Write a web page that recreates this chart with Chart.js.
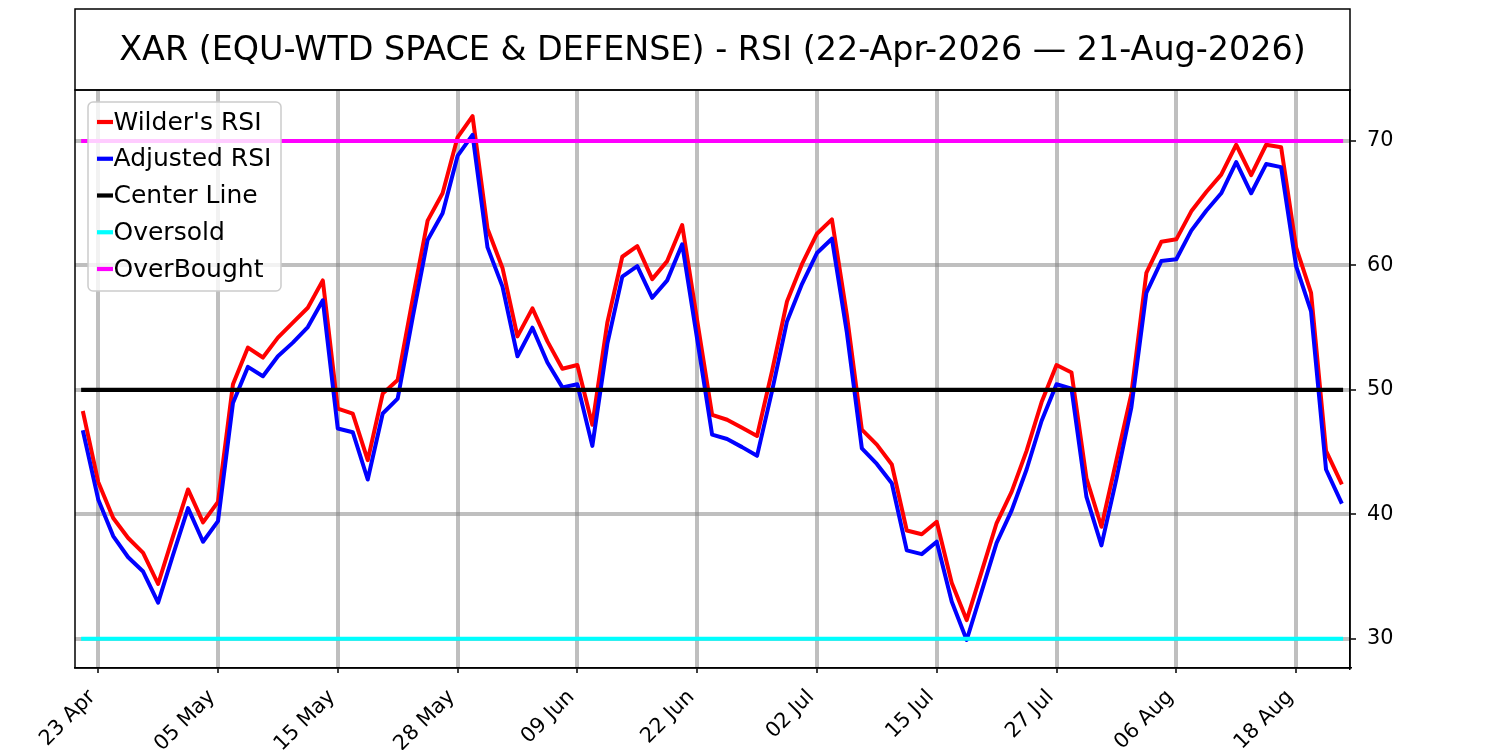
<!DOCTYPE html>
<html>
<head>
<meta charset="utf-8">
<script src="https://cdn.jsdelivr.net/npm/chart.js@4.4.1/dist/chart.umd.min.js"></script>
<style>
html,body{margin:0;padding:0;background:#ffffff;}
#wrap{width:1500px;height:750px;}
</style>
</head>
<body>
<div id="wrap"><canvas id="c" width="1500" height="750"></canvas></div>
<script>
const titleText = "XAR (EQU-WTD SPACE & DEFENSE) - RSI (22-Apr-2026 \u2014 21-Aug-2026)";

const dates = [
  "22 Apr","23 Apr","24 Apr","27 Apr","28 Apr","29 Apr","30 Apr","01 May","04 May","05 May",
  "06 May","07 May","08 May","11 May","12 May","13 May","14 May","15 May","18 May","19 May",
  "20 May","21 May","22 May","26 May","27 May","28 May","29 May","01 Jun","02 Jun","03 Jun",
  "04 Jun","05 Jun","08 Jun","09 Jun","10 Jun","11 Jun","12 Jun","15 Jun","16 Jun","17 Jun",
  "18 Jun","22 Jun","23 Jun","24 Jun","25 Jun","26 Jun","29 Jun","30 Jun","01 Jul","02 Jul",
  "06 Jul","07 Jul","08 Jul","09 Jul","10 Jul","13 Jul","14 Jul","15 Jul","16 Jul","17 Jul",
  "20 Jul","21 Jul","22 Jul","23 Jul","24 Jul","27 Jul","28 Jul","29 Jul","30 Jul","31 Jul",
  "03 Aug","04 Aug","05 Aug","06 Aug","07 Aug","10 Aug","11 Aug","12 Aug","13 Aug","14 Aug",
  "17 Aug","18 Aug","19 Aug","20 Aug","21 Aug"
];

const tickIndices = [1, 9, 17, 25, 33, 41, 49, 57, 65, 73, 81];
const tickLabels = ["23 Apr","05 May","15 May","28 May","09 Jun","22 Jun","02 Jul","15 Jul","27 Jul","06 Aug","18 Aug"];
const yTickValues = [30, 40, 50, 60, 70];

const wilderRSI = [
  48.15, 42.6, 39.7, 38.1, 36.9, 34.4, 38.25, 42.0, 39.35, 41.0,
  50.45, 53.4, 52.6, 54.2, 55.4, 56.6, 58.8, 48.5, 48.1, 44.35,
  49.7, 50.8, 57.3, 63.6, 65.8, 70.3, 72.0, 62.95, 59.8, 54.3,
  56.55, 53.9, 51.7, 52.0, 47.2, 55.4, 60.7, 61.55, 58.9, 60.35,
  63.25, 55.6, 48.0, 47.6, 46.95, 46.3, 51.5, 57.1, 60.1, 62.55,
  63.7, 56.0, 46.8, 45.6, 44.0, 38.7, 38.4, 39.4, 34.5, 31.5,
  35.4, 39.3, 41.8, 45.1, 49.0, 52.0, 51.4, 42.9, 39.0, 44.35,
  49.7, 59.4, 61.9, 62.1, 64.35, 65.9, 67.3, 69.7, 67.25, 69.7,
  69.5, 61.45, 57.8, 45.1, 42.55
];

const adjustedRSI = [
  46.6, 41.2, 38.25, 36.55, 35.4, 32.9, 36.75, 40.5, 37.8, 39.45,
  48.95, 51.85, 51.1, 52.7, 53.8, 55.05, 57.2, 46.9, 46.6, 42.8,
  48.1, 49.3, 55.8, 62.05, 64.2, 68.8, 70.5, 61.45, 58.3, 52.7,
  55.0, 52.2, 50.2, 50.45, 45.5, 53.7, 59.1, 59.95, 57.4, 58.8,
  61.7, 54.1, 46.4, 46.05, 45.4, 44.7, 49.9, 55.5, 58.5, 61.0,
  62.15, 54.6, 45.3, 44.05, 42.5, 37.1, 36.8, 37.8, 33.0, 29.9,
  33.8, 37.7, 40.3, 43.6, 47.5, 50.45, 50.1, 41.4, 37.5, 42.85,
  48.6, 57.8, 60.35, 60.5, 62.8, 64.4, 65.8, 68.3, 65.8, 68.15,
  67.9, 59.95, 56.3, 43.6, 41.0
];

const centerLevel = 50;
const oversoldLevel = 30;
const overboughtLevel = 70;

const lastIndex = dates.length - 1;
const toPoints = arr => arr.map((v, i) => ({x: i, y: v}));
const levelLine = lvl => [{x: 0, y: lvl}, {x: lastIndex, y: lvl}];

const FONT = "'DejaVu Sans', sans-serif";

const framePlugin = {
  id: 'frame',
  afterDraw(chart) {
    const ctx = chart.ctx;
    const a = chart.chartArea;
    ctx.save();
    // title box
    ctx.strokeStyle = '#000';
    ctx.lineWidth = 1.5;
    ctx.strokeRect(a.left, 9, a.right - a.left, a.top - 9);
    ctx.fillStyle = '#000';
    ctx.font = "33.4px " + FONT;
    ctx.textAlign = 'center';
    ctx.textBaseline = 'middle';
    ctx.fillText(titleText, (a.left + a.right) / 2, 51);
    // plot frame
    ctx.strokeRect(a.left, a.top, a.right - a.left, a.bottom - a.top);

    // legend
    const lx = a.left + 13, ly = a.top + 12, lw = 193, lh = 189, r = 5;
    ctx.beginPath();
    ctx.moveTo(lx + r, ly);
    ctx.arcTo(lx + lw, ly, lx + lw, ly + lh, r);
    ctx.arcTo(lx + lw, ly + lh, lx, ly + lh, r);
    ctx.arcTo(lx, ly + lh, lx, ly, r);
    ctx.arcTo(lx, ly, lx + lw, ly, r);
    ctx.closePath();
    ctx.fillStyle = 'rgba(255,255,255,0.8)';
    ctx.fill();
    ctx.strokeStyle = '#cccccc';
    ctx.lineWidth = 1.5;
    ctx.stroke();
    ctx.font = "25px " + FONT;
    ctx.textAlign = 'left';
    ctx.textBaseline = 'middle';
    chart.data.datasets.forEach((ds, k) => {
      const yy = ly + 20 + k * 36.75;
      ctx.strokeStyle = ds.borderColor;
      ctx.lineWidth = 4.2;
      ctx.lineCap = 'butt';
      ctx.beginPath();
      ctx.moveTo(lx + 9, yy);
      ctx.lineTo(lx + 25, yy);
      ctx.stroke();
      ctx.fillStyle = '#000';
      ctx.fillText(ds.label, lx + 25.5, yy + 1);
    });
    ctx.restore();
  }
};

const lineStyle = (color, w, order) => ({
  borderColor: color, backgroundColor: color, borderWidth: w,
  pointRadius: 0, pointHoverRadius: 0, fill: false, tension: 0,
  borderJoinStyle: 'round', borderCapStyle: 'square', order: order
});

new Chart(document.getElementById('c').getContext('2d'), {
  type: 'line',
  data: {
    datasets: [
      Object.assign({label: "Wilder's RSI", data: toPoints(wilderRSI)}, lineStyle('#ff0000', 4, 5)),
      Object.assign({label: "Adjusted RSI", data: toPoints(adjustedRSI)}, lineStyle('#0000ff', 4, 4)),
      Object.assign({label: "Center Line", data: levelLine(centerLevel)}, lineStyle('#000000', 4.2, 3)),
      Object.assign({label: "Oversold", data: levelLine(oversoldLevel)}, lineStyle('#00ffff', 4.2, 2)),
      Object.assign({label: "OverBought", data: levelLine(overboughtLevel)}, lineStyle('#ff00ff', 4.2, 1))
    ]
  },
  options: {
    responsive: false,
    animation: false,
    devicePixelRatio: 1,
    layout: {padding: {left: 75, top: 90, right: 0, bottom: 0}},
    plugins: {legend: {display: false}, title: {display: false}, tooltip: {enabled: false}},
    scales: {
      x: {
        type: 'linear', min: -0.55, max: 84.6,
        afterBuildTicks: s => { s.ticks = tickIndices.map(v => ({value: v})); },
        afterFit: s => { s.height = 82; },
        ticks: {
          autoSkip: false, maxRotation: 45, minRotation: 45, padding: 12, labelOffset: -6,
          color: '#000', font: {family: FONT, size: 20.8},
          callback: v => tickLabels[tickIndices.indexOf(v)]
        },
        grid: {color: 'rgba(128,128,128,0.5)', lineWidth: 4, drawTicks: true, tickLength: 5, tickColor: '#000', tickWidth: 1.5},
        border: {display: true, color: '#000', width: 1.5}
      },
      y: {
        position: 'right', min: 27.65, max: 74.1,
        afterBuildTicks: s => { s.ticks = yTickValues.map(v => ({value: v})); },
        afterFit: s => { s.width = 150; },
        ticks: {padding: 11, color: '#000', font: {family: FONT, size: 20.8}},
        grid: {color: 'rgba(128,128,128,0.5)', lineWidth: 4, drawTicks: true, tickLength: 6, tickColor: '#000', tickWidth: 1.5},
        border: {display: true, color: '#000', width: 1.5}
      }
    }
  },
  plugins: [framePlugin]
});
</script>
</body>
</html>
